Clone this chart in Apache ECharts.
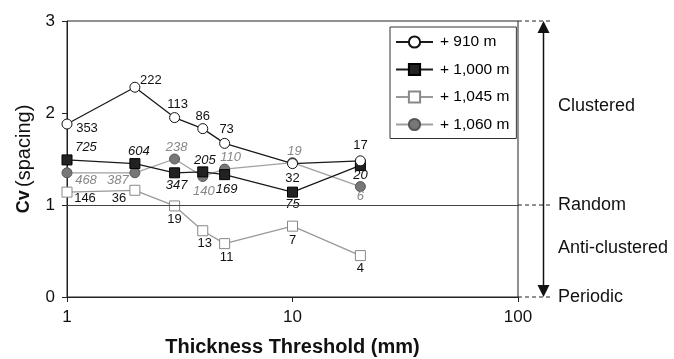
<!DOCTYPE html>
<html>
<head>
<meta charset="utf-8">
<script src="https://cdn.jsdelivr.net/npm/echarts@6/dist/echarts.min.js"></script>
<style>
html,body{margin:0;padding:0;background:#fff;}
#c{width:674px;height:359px;}
</style>
</head>
<body>
<div id="c"></div>
<script>
// Data
const thickness = [1, 2, 3, 4, 5, 10, 20];
const seriesNames = ['+ 910 m', '+ 1,000 m', '+ 1,045 m', '+ 1,060 m'];
const cv910  = [1.88, 2.28, 1.95, 1.83, 1.67, 1.45, 1.48];
const cv1000 = [1.49, 1.45, 1.35, 1.36, 1.33, 1.14, 1.43];
const cv1045 = [1.14, 1.16, 0.99, 0.72, 0.58, 0.77, 0.45];
const cv1060 = [1.35, 1.35, 1.50, 1.31, 1.39, 1.46, 1.20];
const n910  = ['353', '222', '113', '86', '73', '32', '17'];
const n1000 = ['725', '604', '347', '205', '169', '75', '20'];
const n1045 = ['146', '36', '19', '13', '11', '7', '4'];
const n1060 = ['468', '387', '238', '140', '110', '19', '6'];
const yTicks = [0, 1, 2, 3];
const xTicks = [1, 10, 100];
const zoneLabels = ['Clustered', 'Random', 'Anti-clustered', 'Periodic'];

// label offsets (layout only)
const off910  = [[20,4],[16,-7],[3,-13],[0,-12],[2,-14],[0,15],[0,-15]];
const off1000 = [[19,-13],[4,-12],[2,13],[2,-11],[2,15],[0,12],[0,10]];
const off1045 = [[18,6],[-16,8],[0,14],[2,13],[2,14],[0,14],[0,13]];
const off1060 = [[19,8],[-17,8],[2,-12],[1,15],[6,-12],[2,-11],[0,10]];

const FONT = '"Liberation Sans", Arial, sans-serif';

function buildData(vals, labels, offs, italic, color) {
  return thickness.map((x, i) => ({
    value: [x, vals[i]],
    label: {
      show: true,
      position: 'inside',
      offset: offs[i],
      formatter: labels[i],
      fontSize: 13,
      fontStyle: italic ? 'italic' : 'normal',
      color: color,
      fontFamily: FONT
    }
  }));
}

const chart = echarts.init(document.getElementById('c'), null, {renderer: 'canvas'});

const option = {
  animation: false,
  textStyle: {fontFamily: FONT},
  grid: {
    left: 67, right: 156, top: 21, bottom: 62,
    outerBoundsMode: 'none',
    containLabel: false,
    show: true, borderColor: '#222', borderWidth: 1, backgroundColor: 'transparent'
  },
  legend: {
    orient: 'vertical',
    left: 390, top: 27,
    data: seriesNames,
    itemWidth: 37, itemHeight: 14, itemGap: 11.5,
    padding: [7, 7, 6, 5],
    borderColor: '#333', borderWidth: 1,
    backgroundColor: '#fff',
    textStyle: {fontSize: 15.5, color: '#000', fontFamily: FONT, padding: [0, 0, 0, 2]}
  },
  xAxis: {
    type: 'log', logBase: 10, min: xTicks[0], max: xTicks[xTicks.length - 1],
    axisLine: {show: true, lineStyle: {color: '#222', width: 1}},
    axisTick: {show: true, length: 5, lineStyle: {color: '#222'}},
    splitLine: {show: false},
    minorTick: {show: false},
    axisLabel: {fontSize: 17, color: '#111', margin: 12},
    name: 'Thickness Threshold (mm)',
    nameLocation: 'middle',
    nameGap: 40,
    nameTextStyle: {fontSize: 20, fontWeight: 'bold', color: '#111'}
  },
  yAxis: {
    type: 'value', min: yTicks[0], max: yTicks[yTicks.length - 1], interval: 1,
    axisLine: {show: true, lineStyle: {color: '#222', width: 1}},
    axisTick: {show: true, length: 5, lineStyle: {color: '#222'}},
    splitLine: {show: false},
    axisLabel: {fontSize: 17, color: '#111', margin: 12},
    name: '{b|Cv} {n|(spacing)}',
    nameLocation: 'middle',
    nameRotate: 90,
    nameGap: 33,
    nameTextStyle: {
      rich: {
        b: {fontSize: 18, fontWeight: 'bold', color: '#111', fontFamily: FONT},
        n: {fontSize: 20, color: '#111', fontFamily: FONT}
      }
    }
  },
  series: [
    {
      name: seriesNames[3], type: 'line',
      data: buildData(cv1060, n1060, off1060, true, '#888'),
      symbol: 'circle', symbolSize: 10,
      lineStyle: {color: '#a0a0a0', width: 1.3},
      itemStyle: {color: '#777', borderColor: '#555', borderWidth: 1},
      z: 2,
      markLine: {
        silent: true, symbol: 'none', label: {show: false},
        lineStyle: {color: '#444', width: 1.2, type: 'solid'},
        data: [{yAxis: yTicks[1]}]
      }
    },
    {
      name: seriesNames[2], type: 'line',
      data: buildData(cv1045, n1045, off1045, false, '#111'),
      symbol: 'rect', symbolSize: 10,
      lineStyle: {color: '#999', width: 1.3},
      itemStyle: {color: '#fff', borderColor: '#888', borderWidth: 1},
      z: 3
    },
    {
      name: seriesNames[1], type: 'line',
      data: buildData(cv1000, n1000, off1000, true, '#111'),
      symbol: 'rect', symbolSize: 10,
      lineStyle: {color: '#1a1a1a', width: 1.3},
      itemStyle: {color: '#222', borderColor: '#000', borderWidth: 1},
      z: 4
    },
    {
      name: seriesNames[0], type: 'line',
      data: buildData(cv910, n910, off910, false, '#111'),
      symbol: 'circle', symbolSize: 10,
      lineStyle: {color: '#1a1a1a', width: 1.3},
      itemStyle: {color: '#fff', borderColor: '#111', borderWidth: 1},
      z: 5
    }
  ]
};
chart.setOption(option);

// Right-side annotation derived from axis scale
const xr = chart.convertToPixel({xAxisIndex: 0}, xTicks[2]);
const y0 = chart.convertToPixel({yAxisIndex: 0}, yTicks[0]);
const y1 = chart.convertToPixel({yAxisIndex: 0}, yTicks[1]);
const y3 = chart.convertToPixel({yAxisIndex: 0}, yTicks[3]);
const yClust = chart.convertToPixel({yAxisIndex: 0}, 2.08);
const yAnti = chart.convertToPixel({yAxisIndex: 0}, 0.53);
const ax = xr + 25.5;
const dash = {stroke: '#222', lineWidth: 1.2, lineDash: [4, 3]};
const txt = (t, y) => ({type: 'text', x: xr + 40, y: y, style: {text: t, fontSize: 18, fill: '#111', fontFamily: FONT, textVerticalAlign: 'middle', verticalAlign: 'middle'}});
chart.setOption({
  graphic: [
    {type: 'line', shape: {x1: xr, y1: y3, x2: xr + 34, y2: y3}, style: dash},
    {type: 'line', shape: {x1: xr, y1: y1, x2: xr + 34, y2: y1}, style: dash},
    {type: 'line', shape: {x1: xr, y1: y0, x2: xr + 34, y2: y0}, style: dash},
    {type: 'line', shape: {x1: ax, y1: y3 + 10, x2: ax, y2: y0 - 10}, style: {stroke: '#111', lineWidth: 1.5}},
    {type: 'polygon', shape: {points: [[ax, y3], [ax - 6, y3 + 12], [ax + 6, y3 + 12]]}, style: {fill: '#111'}},
    {type: 'polygon', shape: {points: [[ax, y0], [ax - 6, y0 - 12], [ax + 6, y0 - 12]]}, style: {fill: '#111'}},
    txt(zoneLabels[0], yClust),
    txt(zoneLabels[1], y1),
    txt(zoneLabels[2], yAnti),
    txt(zoneLabels[3], y0)
  ]
});
</script>
</body>
</html>
